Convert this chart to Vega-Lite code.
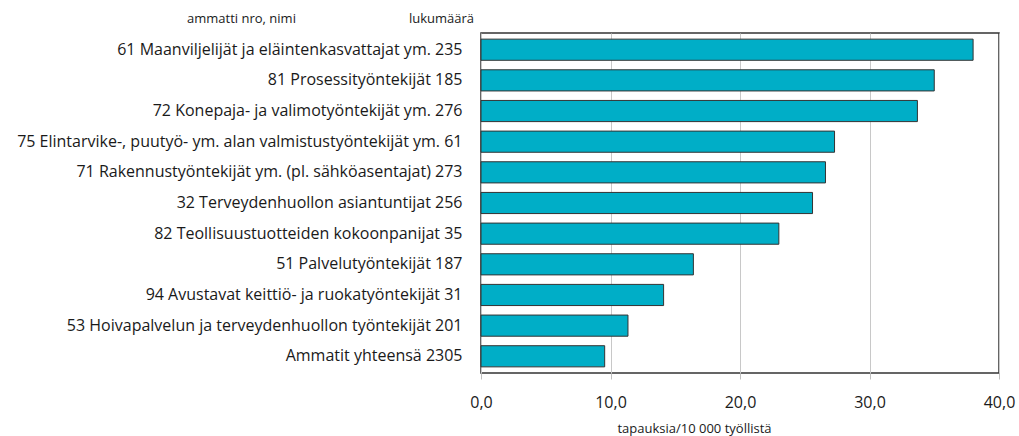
{
  "$schema": "https://vega.github.io/schema/vega-lite/v6.json",
  "width": 518,
  "height": 340,
  "autosize": "none",
  "padding": {"left": 481, "top": 33, "right": 20, "bottom": 63},
  "background": "white",
  "title": {"text": "lukumäärä", "anchor": "start", "frame": "group", "dx": -72, "fontSize": 13, "fontWeight": "normal", "font": "Open Sans", "color": "#1a1a1a", "offset": -14},
  "data": {"values": [
    {"ammatti": "61 Maanviljelijät ja eläintenkasvattajat ym. 235", "tapauksia": 38.0},
    {"ammatti": "81 Prosessityöntekijät 185", "tapauksia": 35.0},
    {"ammatti": "72 Konepaja- ja valimotyöntekijät ym. 276", "tapauksia": 33.7},
    {"ammatti": "75 Elintarvike-, puutyö- ym. alan valmistustyöntekijät ym. 61", "tapauksia": 27.3},
    {"ammatti": "71 Rakennustyöntekijät ym. (pl. sähköasentajat) 273", "tapauksia": 26.6},
    {"ammatti": "32 Terveydenhuollon asiantuntijat 256", "tapauksia": 25.6},
    {"ammatti": "82 Teollisuustuotteiden kokoonpanijat 35", "tapauksia": 23.0},
    {"ammatti": "51 Palvelutyöntekijät 187", "tapauksia": 16.4},
    {"ammatti": "94 Avustavat keittiö- ja ruokatyöntekijät 31", "tapauksia": 14.1},
    {"ammatti": "53 Hoivapalvelun ja terveydenhuollon työntekijät 201", "tapauksia": 11.35},
    {"ammatti": "Ammatit yhteensä 2305", "tapauksia": 9.55}
  ]},
  "mark": {"type": "bar", "fill": "#00AEC7", "stroke": "#333333", "strokeWidth": 1},
  "encoding": {
    "y": {
      "field": "ammatti", "type": "nominal", "sort": null,
      "scale": {"paddingInner": 0.31, "paddingOuter": 0.2},
      "axis": {
        "title": "ammatti nro, nimi", "titleAngle": 0, "titleX": -240, "titleY": -15,
        "titleAlign": "center", "titleBaseline": "middle", "titleFontSize": 13, "titleFontWeight": "normal",
        "labelFontSize": 16, "labelPadding": 19, "ticks": false, "domain": false, "labelLimit": 600, "grid": false
      }
    },
    "x": {
      "field": "tapauksia", "type": "quantitative",
      "scale": {"domain": [0, 40], "nice": false},
      "axis": {
        "values": [0, 10, 20, 30, 40],
        "labelExpr": "replace(format(datum.value, '.1f'), '.', ',')",
        "labelFontSize": 16, "labelPadding": 15, "tickSize": 6, "tickColor": "#c0c0c0",
        "domain": false, "grid": true, "gridColor": "#c8c8c8", "gridWidth": 1,
        "labelFlush": false,
        "title": "tapauksia/10 000 työllistä", "titleX": 213, "titleY": 55,
        "titleAlign": "center", "titleBaseline": "middle", "titleFontSize": 13, "titleFontWeight": "normal"
      }
    }
  },
  "config": {
    "font": "Open Sans",
    "view": {"stroke": "#333333", "strokeWidth": 1.5},
    "axis": {"labelColor": "#1a1a1a", "titleColor": "#1a1a1a", "labelFont": "Open Sans", "titleFont": "Open Sans"}
  }
}
